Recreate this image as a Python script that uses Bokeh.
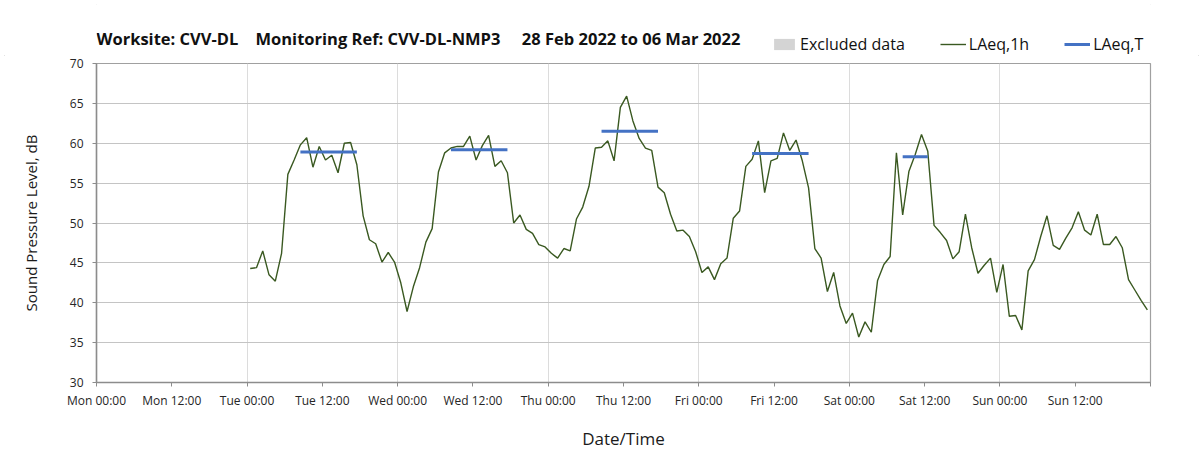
import pandas as pd
from bokeh.plotting import figure
from bokeh.layouts import column
from bokeh.models import (ColumnDataSource, FixedTicker, DatetimeTickFormatter,
                          Range1d, Legend, LegendItem, Label, CDSView, IndexFilter)
from bokeh.embed import file_html
from bokeh.resources import INLINE

# ---------------- data ----------------
title_text = ("Worksite: CVV-DL\u00a0\u00a0\u00a0\u00a0Monitoring Ref: CVV-DL-NMP3"
              "\u00a0\u00a0\u00a0\u00a0\u00a028 Feb 2022 to 06 Mar 2022")
period_start = "2022-02-28 00:00"
period_end = "2022-03-07 00:00"

# hourly LAeq,1h values, first hour starting Tue 01 Mar 2022 00:00
laeq_1h_first_hour = "2022-03-01 00:00"
laeq_1h = [
    44.3, 44.4, 46.5, 43.5, 42.7, 46.2, 56.1, 57.9, 59.8, 60.7,
    57.0, 59.6, 57.9, 58.5, 56.3, 60.0, 60.1, 57.3, 50.9, 47.9,
    47.4, 45.1, 46.3, 45.1, 42.5, 38.9, 42.0, 44.4, 47.6, 49.3,
    56.4, 58.8, 59.4, 59.6, 59.6, 60.9, 57.9, 59.7, 61.0, 57.1,
    57.8, 56.3, 50.0, 51.0, 49.2, 48.7, 47.3, 47.0, 46.2, 45.6,
    46.8, 46.5, 50.5, 52.0, 54.6, 59.4, 59.5, 60.3, 57.8, 64.5,
    65.9, 62.8, 60.6, 59.4, 59.1, 54.5, 53.8, 51.1, 49.0, 49.1,
    48.3, 46.4, 43.8, 44.5, 42.9, 44.9, 45.6, 50.6, 51.5, 57.1,
    58.0, 60.3, 53.8, 57.8, 58.1, 61.3, 59.1, 60.4, 57.8, 54.4,
    46.8, 45.6, 41.4, 43.8, 39.6, 37.4, 38.7, 35.7, 37.6, 36.3,
    42.8, 44.8, 45.8, 58.8, 51.0, 56.5, 58.6, 61.1, 59.0, 49.7,
    48.8, 47.8, 45.5, 46.4, 51.1, 46.9, 43.7, 44.7, 45.6, 41.3,
    44.8, 38.3, 38.4, 36.6, 44.0, 45.4, 48.3, 50.9, 47.2, 46.7,
    48.1, 49.4, 51.4, 49.1, 48.5, 51.1, 47.3, 47.3, 48.3, 46.9,
    42.9, 41.6, 40.3, 39.1,
]
# indices of hours flagged as excluded (none this week)
excluded_hours = []

# LAeq,T daytime periods (first and last hour of each period) and values
laeq_t_first_hour = ["2022-03-01 08:00", "2022-03-02 08:00", "2022-03-03 08:00",
                     "2022-03-04 08:00", "2022-03-05 08:00"]
laeq_t_last_hour = ["2022-03-01 17:00", "2022-03-02 17:00", "2022-03-03 17:00",
                    "2022-03-04 17:00", "2022-03-05 12:00"]
laeq_t = [58.9, 59.2, 61.5, 58.7, 58.3]

y_ticks = [30, 35, 40, 45, 50, 55, 60, 65, 70]

# ---------------- build ----------------
half_hour = pd.Timedelta(minutes=30)
hour_start = pd.date_range(laeq_1h_first_hour, periods=len(laeq_1h), freq="h")
src_1h = ColumnDataSource(dict(
    t=hour_start + half_hour, t_from=hour_start, t_to=hour_start + 2 * half_hour,
    v=laeq_1h, lo=[y_ticks[0]] * len(laeq_1h), hi=[y_ticks[-1]] * len(laeq_1h)))
src_t = ColumnDataSource(dict(
    t0=pd.to_datetime(laeq_t_first_hour) + half_hour,
    t1=pd.to_datetime(laeq_t_last_hour) + half_hour,
    v=laeq_t))


def to_ms(ts):
    return [int((t - pd.Timestamp("1970-01-01")) // pd.Timedelta("1ms")) for t in ts]


x_ticks = pd.date_range(period_start, period_end, freq="12h")   # last one unlabeled
x_grid = pd.date_range(period_start, periods=8, freq="D")

FONT = "Open Sans"
GREEN = "#3a5921"
BLUE = "#4472c4"
GREY_BOX = "#d4d4d4"

x_range = Range1d(pd.Timestamp(period_start), pd.Timestamp(period_end))


def add_series(fig, ex_view):
    r_ex = fig.quad(left="t_from", right="t_to", bottom="lo", top="hi", source=src_1h,
                    view=ex_view, fill_color=GREY_BOX, line_color=None)
    r_1h = fig.line("t", "v", source=src_1h, line_color=GREEN, line_width=1.4)
    r_t = fig.segment(x0="t0", y0="v", x1="t1", y1="v", source=src_t,
                      line_color=BLUE, line_width=3)
    return r_ex, r_1h, r_t


# ---- header strip: title + legend (legend proxies lie outside its range) ----
header = figure(width=1203, height=55, x_range=x_range, y_range=Range1d(0, 1),
                x_axis_location=None, y_axis_location=None,
                output_backend="svg", toolbar_location=None,
                min_border=0, outline_line_color=None)
header.grid.visible = False
h_ex, h_1h, h_t = add_series(header, CDSView())

header.add_layout(Label(x=0, y=17, x_units="screen", y_units="screen", text=title_text,
                        text_font=FONT, text_font_style="bold", text_font_size="16.5px",
                        text_color="#111111", text_baseline="middle"))

legend = Legend(items=[
    LegendItem(label="Excluded data", renderers=[h_ex]),
    LegendItem(label="LAeq,1h", renderers=[h_1h]),
    LegendItem(label="LAeq,T", renderers=[h_t]),
], orientation="horizontal", location=(675, 0))
legend.label_text_font = FONT
legend.label_text_font_size = "16px"
legend.label_text_color = "#111111"
legend.glyph_width = 26
legend.glyph_height = 14
legend.label_standoff = 3
legend.spacing = 35
legend.padding = 0
legend.margin = 0
legend.border_line_color = None
legend.background_fill_alpha = 0
legend.inactive_fill_alpha = 0
header.add_layout(legend, "center")

# ---- main chart ----
p = figure(width=1203, height=416, x_axis_type="datetime", x_range=x_range,
           y_range=Range1d(y_ticks[0], y_ticks[-1]),
           output_backend="svg", toolbar_location=None,
           min_border_left=96, min_border_right=53, min_border_top=8, min_border_bottom=89)
add_series(p, CDSView(filter=IndexFilter(indices=excluded_hours)))

tick_ms = to_ms(x_ticks)
p.xaxis.ticker = FixedTicker(ticks=tick_ms)
fmt = "%a %H:%M"
p.xaxis.formatter = DatetimeTickFormatter(
    milliseconds=fmt, seconds=fmt, minsec=fmt, minutes=fmt, hourmin=fmt,
    hours=fmt, days=fmt, months=fmt, years=fmt)
p.xaxis.major_label_overrides = {tick_ms[-1]: ""}
p.yaxis.ticker = FixedTicker(ticks=y_ticks)
p.xgrid.ticker = FixedTicker(ticks=to_ms(x_grid))

for ax in (p.xaxis, p.yaxis):
    ax.axis_line_color = "#8c8c8c"
    ax.axis_line_width = 1.5
    ax.major_tick_line_color = "#8c8c8c"
    ax.major_tick_in = 0
    ax.major_tick_out = 4
    ax.minor_tick_line_color = None
    ax.major_label_text_font = FONT
    ax.major_label_text_font_size = "12px"
    ax.major_label_text_color = "#262626"
    ax.axis_label_text_font = FONT
    ax.axis_label_text_font_style = "normal"
    ax.axis_label_text_color = "#1a1a1a"

p.xaxis.axis_label = "Date/Time"
p.yaxis.axis_label = "Sound Pressure Level, dB"
p.xaxis.axis_label_text_font_size = "17px"
p.yaxis.axis_label_text_font_size = "15px"
p.xaxis.major_label_standoff = 5
p.yaxis.major_label_standoff = 9
p.xaxis.axis_label_standoff = 15
p.yaxis.axis_label_standoff = 26

p.ygrid.grid_line_color = "#c4c4c4"
p.ygrid.grid_line_width = 1
p.xgrid.grid_line_color = "#dcdcdc"
p.xgrid.grid_line_width = 1
p.outline_line_color = "#a0a0a0"
p.outline_line_width = 1.2
p.background_fill_color = "white"
p.border_fill_color = "white"

layout = column(header, p, spacing=0,
                styles={"outline": "1px solid #d9d9d9", "outline-offset": "-5px"})
open("out.html", "w").write(file_html(layout, INLINE))
